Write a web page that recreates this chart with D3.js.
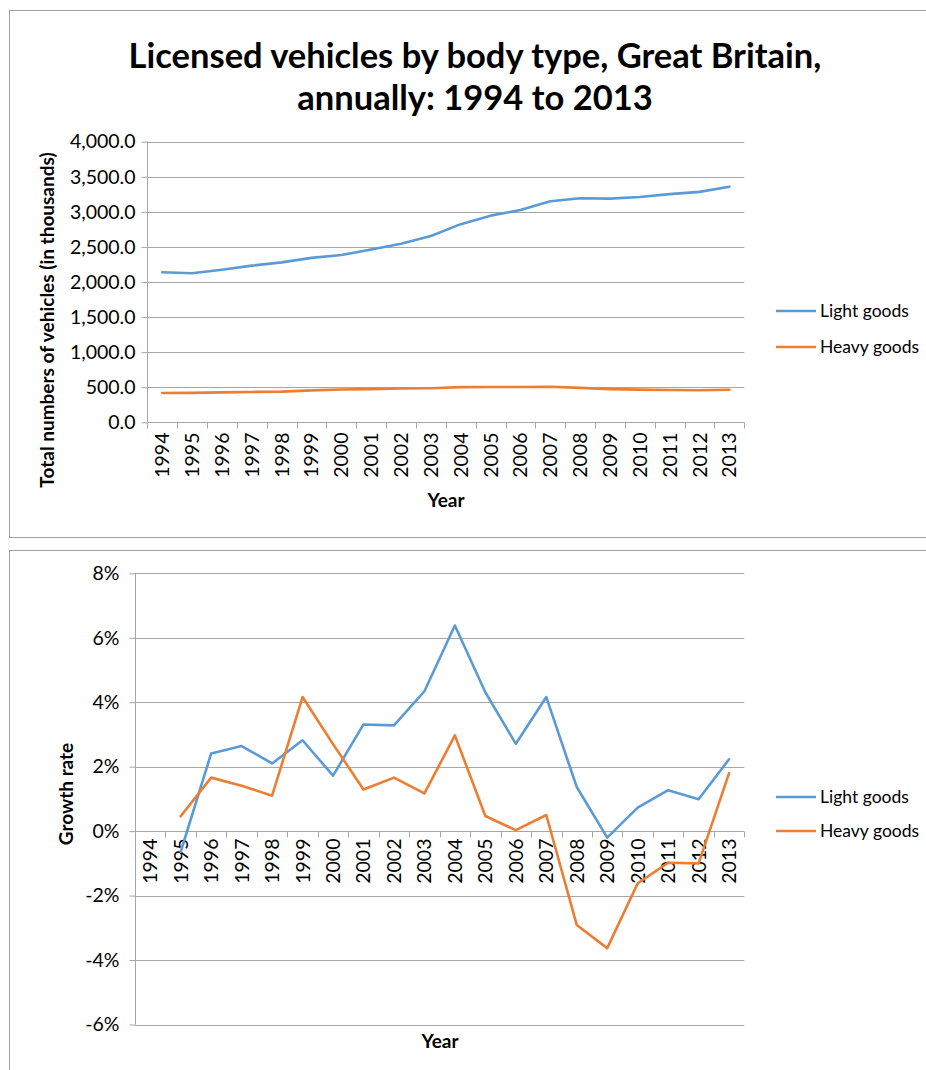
<!DOCTYPE html>
<html>
<head>
<meta charset="utf-8">
<script src="https://cdn.jsdelivr.net/npm/d3@7"></script>
<style>
  html, body { margin: 0; padding: 0; background: #fff; }
  svg { display: block; font-family: Lato, "Open Sans", sans-serif; }
</style>
</head>
<body>
<svg id="chart" width="926" height="1070"></svg>
<script>
// Licensed vehicles (thousands) by body type, Great Britain
const years = ["1994","1995","1996","1997","1998","1999","2000","2001","2002","2003",
               "2004","2005","2006","2007","2008","2009","2010","2011","2012","2013"];
const lightGoods = [2138, 2124, 2175, 2233, 2280, 2344, 2384, 2463, 2544, 2655,
                    2825, 2946, 3026, 3151, 3194, 3188, 3212, 3253, 3285, 3359];
const heavyGoods = [418, 420, 427, 433, 437, 455, 467, 473, 481, 486,
                    501, 503, 503, 506, 491, 473, 466, 461, 456, 464];

// Year-on-year growth rate (%), no value for the first year
const lightGrowth = [null, -0.64, 2.41, 2.64, 2.10, 2.82, 1.72, 3.31, 3.28, 4.34,
                     6.38, 4.31, 2.71, 4.16, 1.37, -0.20, 0.73, 1.27, 0.99, 2.23];
const heavyGrowth = [null, 0.46, 1.66, 1.41, 1.10, 4.16, 2.70, 1.29, 1.66, 1.17,
                     2.97, 0.47, 0.03, 0.50, -2.91, -3.63, -1.62, -0.98, -1.00, 1.80];

const levelTicks = [0, 500, 1000, 1500, 2000, 2500, 3000, 3500, 4000];
const growthTicks = [-6, -4, -2, 0, 2, 4, 6, 8];

const seriesNames = ["Light goods", "Heavy goods"];
const colors = ["#5b9bd5", "#ed7d31"];
const gridColor = "#a6a6a6";

const svg = d3.select("#chart");

// Panel frames
svg.append("rect").attr("x", 9.5).attr("y", 10.5).attr("width", 930).attr("height", 527)
  .attr("fill", "#fff").attr("stroke", "#a0a0a0").attr("stroke-width", 1);
svg.append("rect").attr("x", 9.5).attr("y", 550.5).attr("width", 930).attr("height", 540)
  .attr("fill", "#fff").attr("stroke", "#a0a0a0").attr("stroke-width", 1);

// Title
const title = svg.append("text").attr("x", 475).attr("text-anchor", "middle")
  .attr("font-weight", "bold").attr("font-size", 34.5).attr("fill", "#000");
title.append("tspan").attr("x", 475).attr("y", 68).text("Licensed vehicles by body type, Great Britain,");
title.append("tspan").attr("x", 475).attr("y", 110).text("annually: 1994 to 2013");

function drawPanel(cfg) {
  const g = svg.append("g");
  const x = d3.scaleBand().domain(years).range([cfg.left, cfg.right]);
  const y = d3.scaleLinear().domain(cfg.domain).range([cfg.bottom, cfg.top]);
  const cx = d => x(d) + x.bandwidth() / 2;

  // horizontal gridlines
  g.append("g").selectAll("line").data(cfg.ticks).join("line")
    .attr("x1", cfg.left).attr("x2", cfg.right)
    .attr("y1", d => Math.round(y(d)) + 0.5).attr("y2", d => Math.round(y(d)) + 0.5)
    .attr("stroke", gridColor).attr("stroke-width", 1);

  // y axis
  const yAxis = d3.axisLeft(y).tickValues(cfg.ticks).tickFormat(cfg.fmt)
    .tickSize(6).tickPadding(cfg.yPad);
  const ya = g.append("g").attr("transform", `translate(${Math.round(cfg.left) + 0.5},0)`).call(yAxis);
  ya.select(".domain").attr("stroke", gridColor).attr("d", `M0,${cfg.top}V${cfg.bottom}`);
  ya.selectAll(".tick line").attr("stroke", gridColor);
  ya.selectAll(".tick text").attr("font-size", cfg.tickFont).attr("fill", "#000")
    .attr("font-family", "Lato, sans-serif");

  // x axis at the zero line
  const zeroY = Math.round(y(0)) + 0.5;
  const xa = g.append("g").attr("transform", `translate(0,${zeroY})`);
  const bounds = d3.range(years.length + 1).map(i => cfg.left + i * x.bandwidth());
  xa.selectAll("line.tk").data(bounds).join("line").attr("class", "tk")
    .attr("x1", d => Math.round(d) + 0.5).attr("x2", d => Math.round(d) + 0.5)
    .attr("y1", 0).attr("y2", 6).attr("stroke", gridColor);
  xa.selectAll("text").data(years).join("text")
    .attr("transform", d => `translate(${cx(d) + 7},${cfg.xLabelTop}) rotate(-90)`)
    .attr("text-anchor", "end").attr("font-size", cfg.tickFont).attr("fill", "#000")
    .text(d => d);

  // series lines
  [cfg.series[0], cfg.series[1]].forEach((vals, i) => {
    const line = d3.line().defined(d => d != null)
      .x((d, j) => cx(years[j])).y(d => y(d));
    g.append("path").datum(vals).attr("d", line)
      .attr("fill", "none").attr("stroke", colors[i]).attr("stroke-width", 2.6)
      .attr("stroke-linejoin", "round").attr("stroke-linecap", "round");
  });

  // axis titles
  g.append("text").attr("transform", `translate(${cfg.yTitleX},${cfg.yTitleY}) rotate(-90)`)
    .attr("text-anchor", "middle").attr("font-weight", "bold").attr("font-size", cfg.titleFont)
    .text(cfg.yTitle);
  g.append("text").attr("x", cfg.xTitleX).attr("y", cfg.xTitleY)
    .attr("text-anchor", "middle").attr("font-weight", "bold").attr("font-size", cfg.titleFont)
    .text("Year");

  // legend
  seriesNames.forEach((name, i) => {
    const ly = cfg.legendY[i];
    g.append("line").attr("x1", 776).attr("x2", 816).attr("y1", ly).attr("y2", ly)
      .attr("stroke", colors[i]).attr("stroke-width", 2.6);
    g.append("text").attr("x", 820).attr("y", ly + 6).attr("font-size", cfg.legendFont)
      .attr("fill", "#000").text(name);
  });
}

drawPanel({
  left: 147.3, right: 744.3, top: 141.7, bottom: 422.3,
  domain: [0, 4000], ticks: levelTicks, fmt: d3.format(",.1f"),
  series: [lightGoods, heavyGoods],
  tickFont: 19.5, titleFont: 19, legendFont: 17.5, yPad: 6,
  xLabelTop: 10,
  yTitle: "Total numbers of vehicles (in thousands)", yTitleX: 54, yTitleY: 320,
  xTitleX: 446, xTitleY: 507,
  legendY: [311, 347]
});

drawPanel({
  left: 135, right: 744.3, top: 573.3, bottom: 1024.5,
  domain: [-6, 8], ticks: growthTicks, fmt: d => d + "%",
  series: [lightGrowth, heavyGrowth],
  tickFont: 19.5, titleFont: 19, legendFont: 17.5, yPad: 10,
  xLabelTop: 7,
  yTitle: "Growth rate", yTitleX: 73, yTitleY: 794,
  xTitleX: 440, xTitleY: 1048,
  legendY: [797, 831]
});
</script>
</body>
</html>
